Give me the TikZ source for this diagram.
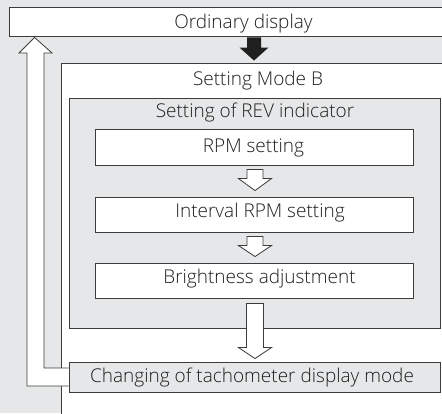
\documentclass[tikz,border=0pt]{standalone}
\usepackage{fontspec}
\IfFontExistsTF{Open Sans Light}{\setmainfont{Open Sans Light}}{\setmainfont{Open Sans}}
\usetikzlibrary{calc}
\definecolor{bg}{HTML}{E6E7E8}
\definecolor{ln}{HTML}{3C3C3C}
\definecolor{tx}{HTML}{1E1E1E}
\tikzset{
  box/.style={draw=ln, line width=0.9pt, inner sep=0pt, rectangle},
  wbox/.style={box, fill=white},
  gbox/.style={box, fill=bg},
  lbl/.style={anchor=base, inner sep=0pt, text=tx, font=\fontsize{19}{21}\selectfont},
  hollow/.style={draw=ln, line width=0.8pt, fill=white, line join=miter},
  solidarr/.style={draw=none, fill=black!88},
}
% #1 style, #2 start (shaft top), #3 tip, #4 shaft half width, #5 head half width, #6 head length
\newcommand\blockarr[6]{%
  \path[#1] let \p1=#2, \p2=#3 in
    (\x2-#4,\y1) -- (\x2-#4,\y2+#6) -- (\x2-#5,\y2+#6) -- (\x2,\y2) --
    (\x2+#5,\y2+#6) -- (\x2+#4,\y2+#6) -- (\x2+#4,\y1) -- cycle;}
\begin{document}
\begin{tikzpicture}[x=1pt,y=-1pt]
\useasboundingbox (0,0) rectangle (442,413);
\clip (0,0) rectangle (442,413);
\fill[bg] (0,0) rectangle (442,413);
% boxes
\node[wbox, minimum width=461pt, minimum height=29pt] (ord) at (239.5,21.5) {};
\node[wbox, minimum width=409pt, minimum height=360pt] (modeB) at (265.5,243) {};
\node[gbox, minimum width=371pt, minimum height=230pt] (rev) at (254.5,213) {};
\node[wbox, minimum width=318pt, minimum height=36pt] (rpm) at (254,147) {};
\node[wbox, minimum width=318pt, minimum height=35pt] (interval) at (254,214.5) {};
\node[wbox, minimum width=318pt, minimum height=35pt] (bright) at (254,280.5) {};
\node[gbox, minimum width=371pt, minimum height=30pt] (changing) at (254.5,377) {};
% texts
\node[lbl] (tord) at (243.5,28.5) {Ordinary display};
\node[lbl] (tmodeB) at (258,85) {Setting Mode B};
\node[lbl] (trev) at (255,117) {Setting of REV indicator};
\node[lbl] (trpm) at (253.5,152) {RPM setting};
\node[lbl] (tint) at (260,217.5) {Interval RPM setting};
\node[lbl] (tbri) at (259.5,283.5) {Brightness adjustment};
\node[lbl] (tchg) at (252,382.5) {Changing of tachometer display mode};
% arrows
\blockarr{solidarr}{($(ord.south -| rpm.south)+(0,1)$)}{($(modeB.north -| rpm.north)+(0,-2)$)}{7pt}{14.5pt}{13pt}
\blockarr{hollow}{($(rpm.south)+(1,4)$)}{($(interval.north)+(1,-6)$)}{8pt}{16.5pt}{12pt}
\blockarr{hollow}{($(interval.south)+(1,4)$)}{($(bright.north)+(1,-6)$)}{8pt}{16.5pt}{11pt}
\blockarr{hollow}{($(bright.south)+(1,5)$)}{($(changing.north -| rpm.north)+(1,-3)$)}{8.5pt}{16.5pt}{11pt}
% return arrow
\coordinate (ri) at ($(changing.west)+(0,-9)$);
\coordinate (ro) at ($(changing.west)+(0,9)$);
\coordinate (rt) at ($(ord.south west)+(26,1)$);
\fill[white] (ri) -- (44,0 |- ri) -- (44,53) -- (52,53) -- (rt) -- (19,53) -- (27,53) -- (27,0 |- ro) -- (ro) -- cycle;
\draw[draw=ln, line width=0.8pt, line join=miter] (ri) -- (44,0 |- ri) -- (44,53) -- (52,53) -- (rt) -- (19,53) -- (27,53) -- (27,0 |- ro) -- (ro);
\end{tikzpicture}
\end{document}
